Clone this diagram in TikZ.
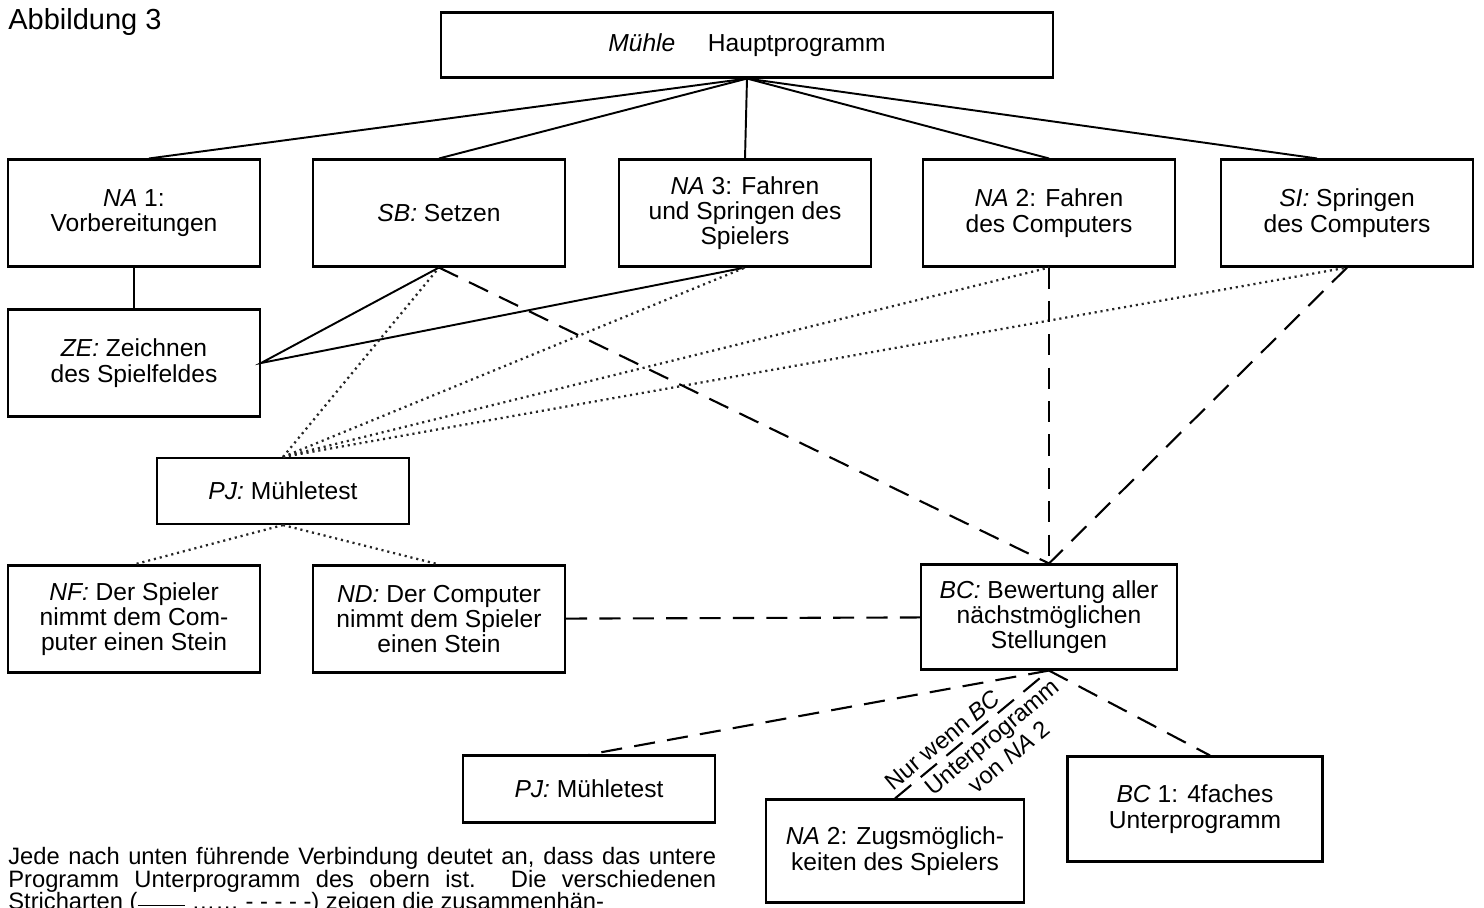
\documentclass[tikz,border=0pt]{standalone}
\usepackage{fontspec}
\setsansfont{Liberation Sans}

\tikzset{
  box/.style={draw, line width=1.2pt, font=\sffamily\fontsize{14}{14.4}\selectfont, align=center, minimum width=5.04cm, minimum height=2.14cm, inner sep=2pt},
  solidline/.style={line width=1.1pt},
  dotline/.style={line width=1.3pt, black!85, dash pattern=on 1.2pt off 2.2pt},
  dashline/.style={line width=1.2pt, dash pattern=on 12pt off 7pt},
  lbl/.style={font=\sffamily\fontsize{13.5}{15}\selectfont, inner sep=3pt}
}

\begin{document}
\begin{tikzpicture}[x=0.02cm, y=-0.02cm]
\useasboundingbox (0,0) rectangle (1484,907);

\node [font=\sffamily\fontsize{16.5}{18}\selectfont, anchor=west, inner sep=0pt] (title) at (8,22) {Abbildung 3};

\node [box, minimum width=12.24cm, minimum height=1.3cm] (main) at (747,45) {\textit{Mühle}\hspace{0.65cm}Hauptprogramm};

\node [box] (na1) at (134,213) {\textit{NA} 1:\\Vorbereitungen};
\node [box] (sb) at (439,213) {\textit{SB:} Setzen};
\node [box] (na3) at (745,213) {\textit{NA} 3: Fahren\\und Springen des\\Spielers};
\node [box] (na2) at (1049,213) {\textit{NA} 2: Fahren\\des Computers};
\node [box] (si) at (1347,213) {\textit{SI:} Springen\\des Computers};

\node [box] (ze) at (134,363) {\textit{ZE:} Zeichnen\\des Spielfeldes};
\node [box, minimum height=1.32cm] (pj) at (283,491) {\textit{PJ:} Mühletest};

\node [box] (nf) at (134,619) {\textit{NF:} Der Spieler\\nimmt dem Com-\\puter einen Stein};
\node [box] (nd) at (439,619) {\textit{ND:} Der Computer\\nimmt dem Spieler\\einen Stein};
\node [box, minimum width=5.12cm, minimum height=2.1cm] (bc) at (1049,617) {\textit{BC:} Bewertung aller\\nächstmöglichen\\Stellungen};

\node [box, minimum height=1.34cm] (pjb) at (589,789) {\textit{PJ:} Mühletest};
\node [box, minimum width=5.16cm, minimum height=2.06cm] (na2b) at (895,851) {\textit{NA} 2: Zugsmöglich-\\keiten des Spielers};
\node [box, minimum width=5.1cm, minimum height=2.1cm] (bc1) at (1195,809) {\textit{BC} 1: 4faches\\Unterprogramm};

\node [anchor=north west, text width=14.16cm, align=justify, inner sep=0pt, font=\sffamily\fontsize{13.5}{12.9}\selectfont] (note) at (8,847) {Jede nach unten führende Verbindung deutet an, dass das untere\linebreak Programm Unterprogramm des obern ist. Die verschiedenen\linebreak Stricharten (\rule[0.3ex]{2em}{0.8pt}\ \dots\dots\ - - - - -) zeigen die zusammenhän-};

\draw [solidline] (main.south) -- ([xshift=0.3cm]na1.north);
\draw [solidline] (main.south) -- (sb.north);
\draw [solidline] (main.south) -- (na3.north);
\draw [solidline] (main.south) -- (na2.north);
\draw [solidline] (main.south) -- ([xshift=-0.6cm]si.north);

\draw [solidline] (na1) -- (ze);
\draw [solidline] (sb.south) -- (ze.east) -- (na3.south);

\draw [dotline] (pj.north) -- (sb.south);
\draw [dotline] (pj.north) -- (na3.south);
\draw [dotline] (pj.north) -- (na2.south);
\draw [dotline] (pj.north) -- (si.south);
\draw [dotline] (pj.south) -- (nf.north);
\draw [dotline] (pj.south) -- (nd.north);

\draw [dashline] (sb.south) -- (bc.north);
\draw [dashline] (na2.south) -- (bc.north);
\draw [dashline] (si.south) -- (bc.north);
\draw [dashline] (nd) -- (bc);

\draw [dashline] (bc.south) -- (pjb.north);
\draw [dashline] (na2b.north) -- (bc.south)
  node [lbl, pos=0.37, sloped, above] {Nur wenn \textit{BC}}
  node [lbl, pos=0.57, sloped, below, align=center] {Unterprogramm\\von \textit{NA} 2};
\draw [dashline] (bc.south) -- ([xshift=0.3cm]bc1.north);
\end{tikzpicture}
\end{document}
